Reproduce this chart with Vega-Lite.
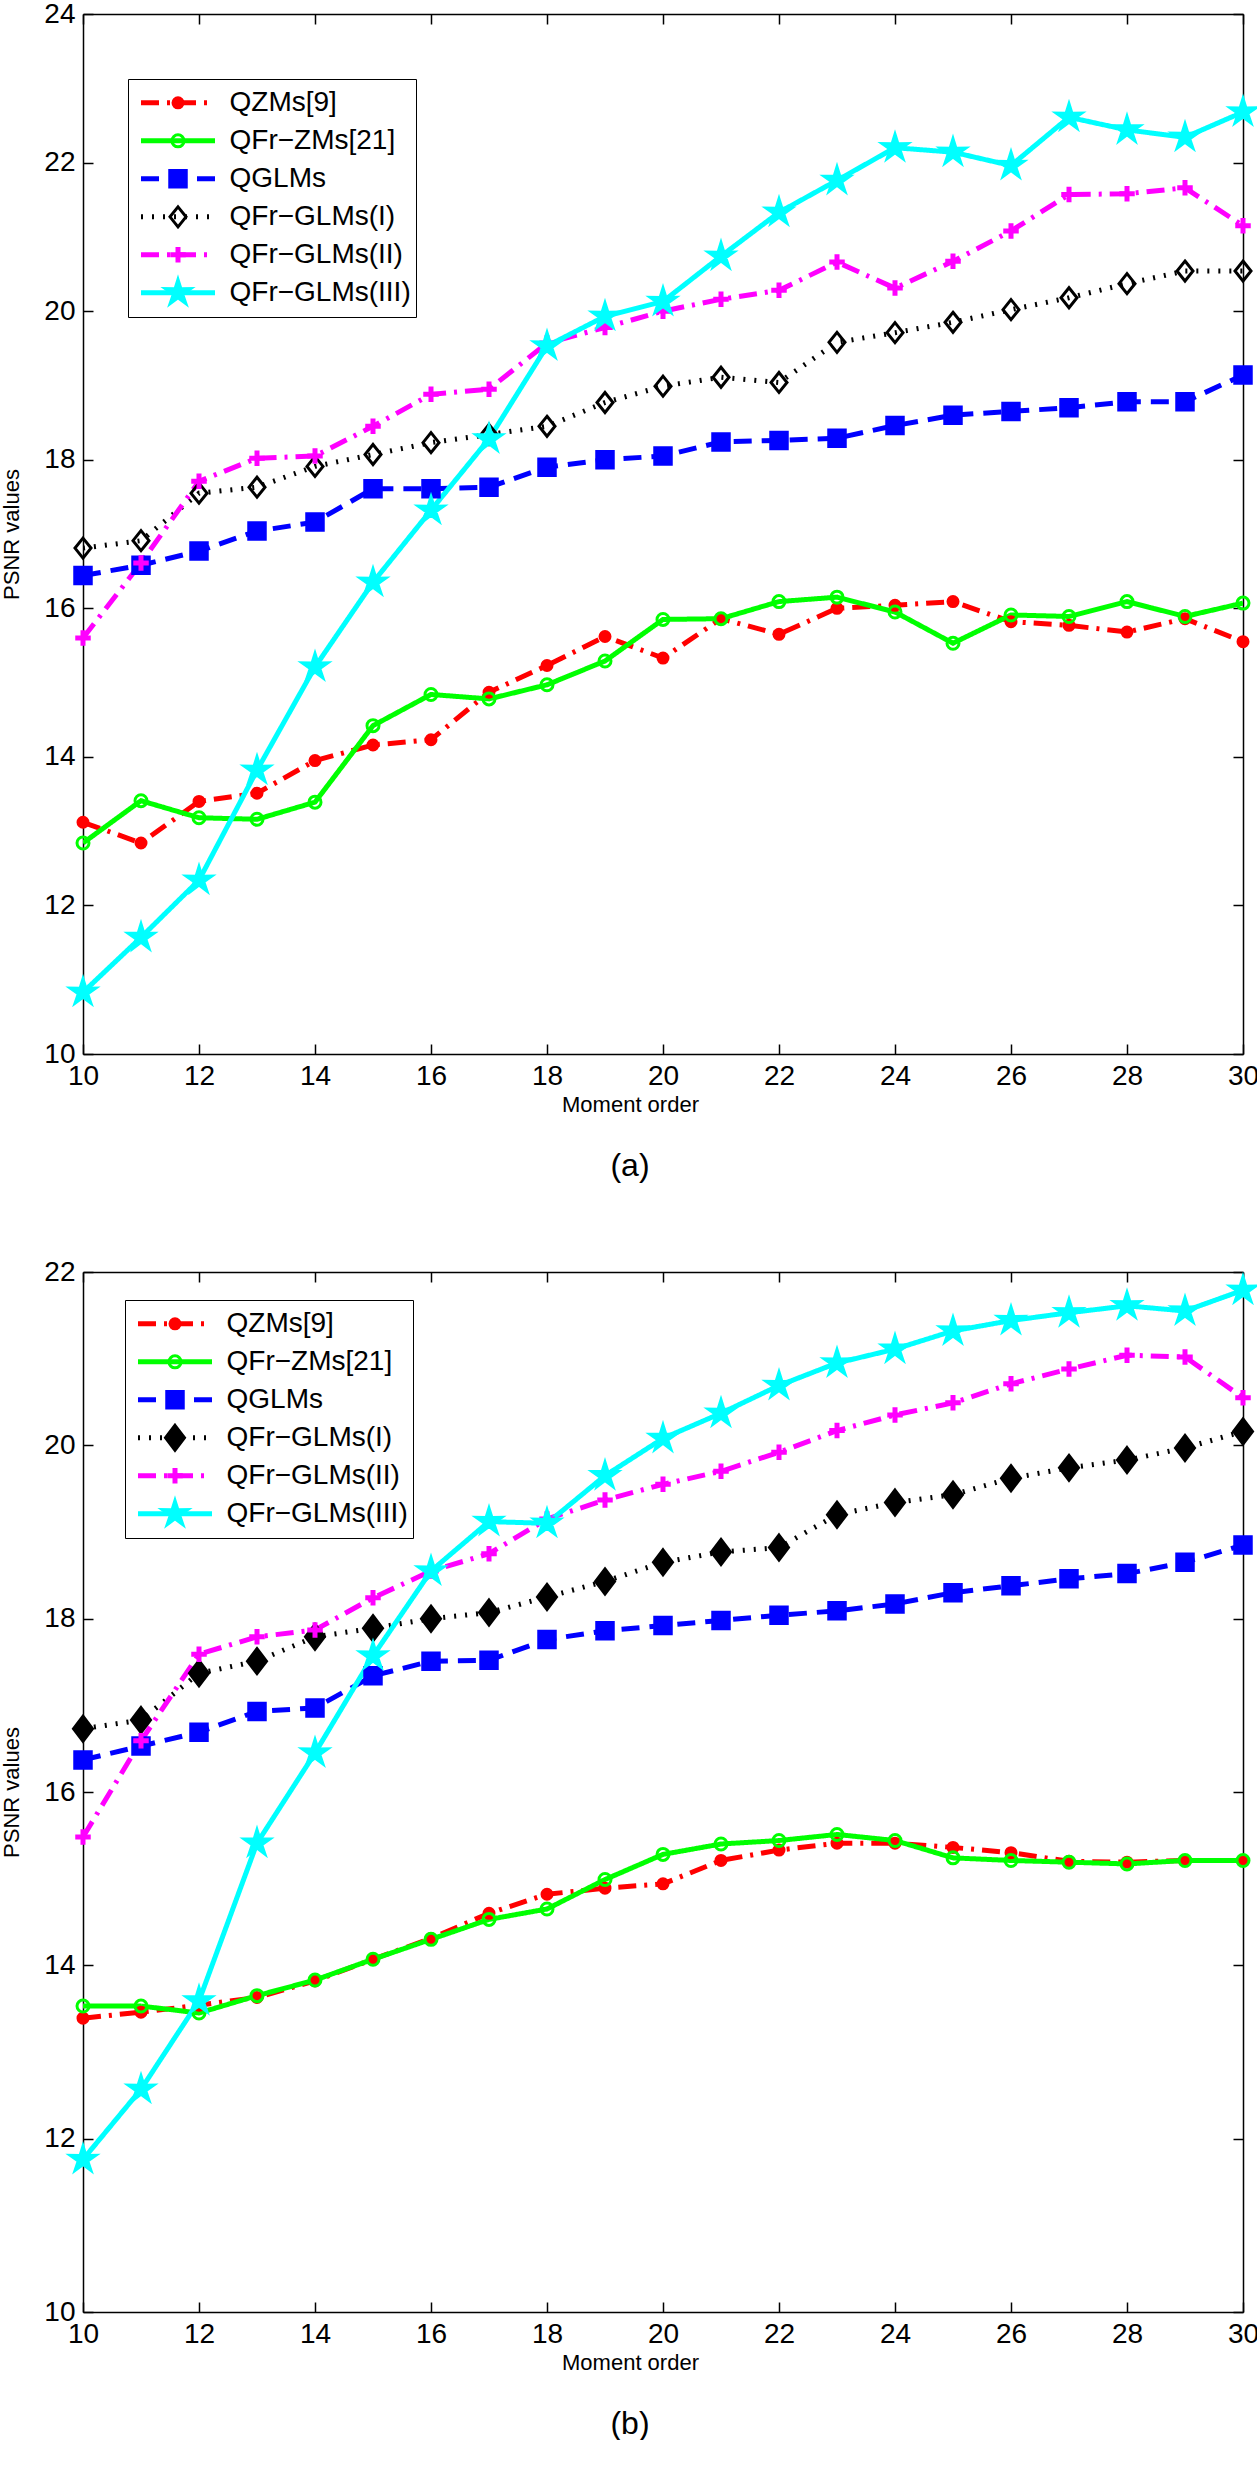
{
  "$schema": "https://vega.github.io/schema/vega-lite/v6.json",
  "background": "white",
  "padding": {"left": 0, "top": 0, "right": 0, "bottom": 0},
  "config": {"view": {"stroke": null}, "font": "Liberation Sans"},
  "datasets": {
    "a": [
      {"series":"QZMs[9]","order":10,"psnr":13.12},{"series":"QZMs[9]","order":11,"psnr":12.84},{"series":"QZMs[9]","order":12,"psnr":13.40},{"series":"QZMs[9]","order":13,"psnr":13.51},{"series":"QZMs[9]","order":14,"psnr":13.95},{"series":"QZMs[9]","order":15,"psnr":14.16},{"series":"QZMs[9]","order":16,"psnr":14.23},{"series":"QZMs[9]","order":17,"psnr":14.87},{"series":"QZMs[9]","order":18,"psnr":15.23},{"series":"QZMs[9]","order":19,"psnr":15.62},{"series":"QZMs[9]","order":20,"psnr":15.33},{"series":"QZMs[9]","order":21,"psnr":15.86},{"series":"QZMs[9]","order":22,"psnr":15.65},{"series":"QZMs[9]","order":23,"psnr":16.00},{"series":"QZMs[9]","order":24,"psnr":16.04},{"series":"QZMs[9]","order":25,"psnr":16.09},{"series":"QZMs[9]","order":26,"psnr":15.82},{"series":"QZMs[9]","order":27,"psnr":15.77},{"series":"QZMs[9]","order":28,"psnr":15.68},{"series":"QZMs[9]","order":29,"psnr":15.86},{"series":"QZMs[9]","order":30,"psnr":15.55},
      {"series":"QFr−ZMs[21]","order":10,"psnr":12.84},{"series":"QFr−ZMs[21]","order":11,"psnr":13.41},{"series":"QFr−ZMs[21]","order":12,"psnr":13.18},{"series":"QFr−ZMs[21]","order":13,"psnr":13.16},{"series":"QFr−ZMs[21]","order":14,"psnr":13.39},{"series":"QFr−ZMs[21]","order":15,"psnr":14.42},{"series":"QFr−ZMs[21]","order":16,"psnr":14.84},{"series":"QFr−ZMs[21]","order":17,"psnr":14.78},{"series":"QFr−ZMs[21]","order":18,"psnr":14.97},{"series":"QFr−ZMs[21]","order":19,"psnr":15.29},{"series":"QFr−ZMs[21]","order":20,"psnr":15.85},{"series":"QFr−ZMs[21]","order":21,"psnr":15.86},{"series":"QFr−ZMs[21]","order":22,"psnr":16.09},{"series":"QFr−ZMs[21]","order":23,"psnr":16.15},{"series":"QFr−ZMs[21]","order":24,"psnr":15.95},{"series":"QFr−ZMs[21]","order":25,"psnr":15.53},{"series":"QFr−ZMs[21]","order":26,"psnr":15.91},{"series":"QFr−ZMs[21]","order":27,"psnr":15.89},{"series":"QFr−ZMs[21]","order":28,"psnr":16.09},{"series":"QFr−ZMs[21]","order":29,"psnr":15.89},{"series":"QFr−ZMs[21]","order":30,"psnr":16.07},
      {"series":"QGLMs","order":10,"psnr":16.44},{"series":"QGLMs","order":11,"psnr":16.58},{"series":"QGLMs","order":12,"psnr":16.77},{"series":"QGLMs","order":13,"psnr":17.04},{"series":"QGLMs","order":14,"psnr":17.16},{"series":"QGLMs","order":15,"psnr":17.61},{"series":"QGLMs","order":16,"psnr":17.61},{"series":"QGLMs","order":17,"psnr":17.63},{"series":"QGLMs","order":18,"psnr":17.90},{"series":"QGLMs","order":19,"psnr":18.00},{"series":"QGLMs","order":20,"psnr":18.05},{"series":"QGLMs","order":21,"psnr":18.24},{"series":"QGLMs","order":22,"psnr":18.26},{"series":"QGLMs","order":23,"psnr":18.29},{"series":"QGLMs","order":24,"psnr":18.46},{"series":"QGLMs","order":25,"psnr":18.60},{"series":"QGLMs","order":26,"psnr":18.65},{"series":"QGLMs","order":27,"psnr":18.70},{"series":"QGLMs","order":28,"psnr":18.78},{"series":"QGLMs","order":29,"psnr":18.78},{"series":"QGLMs","order":30,"psnr":19.14},
      {"series":"QFr−GLMs(I)","order":10,"psnr":16.81},{"series":"QFr−GLMs(I)","order":11,"psnr":16.91},{"series":"QFr−GLMs(I)","order":12,"psnr":17.55},{"series":"QFr−GLMs(I)","order":13,"psnr":17.63},{"series":"QFr−GLMs(I)","order":14,"psnr":17.91},{"series":"QFr−GLMs(I)","order":15,"psnr":18.07},{"series":"QFr−GLMs(I)","order":16,"psnr":18.23},{"series":"QFr−GLMs(I)","order":17,"psnr":18.34},{"series":"QFr−GLMs(I)","order":18,"psnr":18.45},{"series":"QFr−GLMs(I)","order":19,"psnr":18.77},{"series":"QFr−GLMs(I)","order":20,"psnr":18.99},{"series":"QFr−GLMs(I)","order":21,"psnr":19.11},{"series":"QFr−GLMs(I)","order":22,"psnr":19.04},{"series":"QFr−GLMs(I)","order":23,"psnr":19.58},{"series":"QFr−GLMs(I)","order":24,"psnr":19.71},{"series":"QFr−GLMs(I)","order":25,"psnr":19.85},{"series":"QFr−GLMs(I)","order":26,"psnr":20.02},{"series":"QFr−GLMs(I)","order":27,"psnr":20.18},{"series":"QFr−GLMs(I)","order":28,"psnr":20.37},{"series":"QFr−GLMs(I)","order":29,"psnr":20.54},{"series":"QFr−GLMs(I)","order":30,"psnr":20.54},
      {"series":"QFr−GLMs(II)","order":10,"psnr":15.60},{"series":"QFr−GLMs(II)","order":11,"psnr":16.61},{"series":"QFr−GLMs(II)","order":12,"psnr":17.71},{"series":"QFr−GLMs(II)","order":13,"psnr":18.02},{"series":"QFr−GLMs(II)","order":14,"psnr":18.05},{"series":"QFr−GLMs(II)","order":15,"psnr":18.45},{"series":"QFr−GLMs(II)","order":16,"psnr":18.88},{"series":"QFr−GLMs(II)","order":17,"psnr":18.95},{"series":"QFr−GLMs(II)","order":18,"psnr":19.57},{"series":"QFr−GLMs(II)","order":19,"psnr":19.78},{"series":"QFr−GLMs(II)","order":20,"psnr":20.00},{"series":"QFr−GLMs(II)","order":21,"psnr":20.16},{"series":"QFr−GLMs(II)","order":22,"psnr":20.28},{"series":"QFr−GLMs(II)","order":23,"psnr":20.66},{"series":"QFr−GLMs(II)","order":24,"psnr":20.31},{"series":"QFr−GLMs(II)","order":25,"psnr":20.67},{"series":"QFr−GLMs(II)","order":26,"psnr":21.08},{"series":"QFr−GLMs(II)","order":27,"psnr":21.57},{"series":"QFr−GLMs(II)","order":28,"psnr":21.58},{"series":"QFr−GLMs(II)","order":29,"psnr":21.66},{"series":"QFr−GLMs(II)","order":30,"psnr":21.15},
      {"series":"QFr−GLMs(III)","order":10,"psnr":10.83},{"series":"QFr−GLMs(III)","order":11,"psnr":11.57},{"series":"QFr−GLMs(III)","order":12,"psnr":12.34},{"series":"QFr−GLMs(III)","order":13,"psnr":13.82},{"series":"QFr−GLMs(III)","order":14,"psnr":15.21},{"series":"QFr−GLMs(III)","order":15,"psnr":16.35},{"series":"QFr−GLMs(III)","order":16,"psnr":17.32},{"series":"QFr−GLMs(III)","order":17,"psnr":18.28},{"series":"QFr−GLMs(III)","order":18,"psnr":19.53},{"series":"QFr−GLMs(III)","order":19,"psnr":19.93},{"series":"QFr−GLMs(III)","order":20,"psnr":20.13},{"series":"QFr−GLMs(III)","order":21,"psnr":20.74},{"series":"QFr−GLMs(III)","order":22,"psnr":21.33},{"series":"QFr−GLMs(III)","order":23,"psnr":21.76},{"series":"QFr−GLMs(III)","order":24,"psnr":22.20},{"series":"QFr−GLMs(III)","order":25,"psnr":22.14},{"series":"QFr−GLMs(III)","order":26,"psnr":21.96},{"series":"QFr−GLMs(III)","order":27,"psnr":22.61},{"series":"QFr−GLMs(III)","order":28,"psnr":22.44},{"series":"QFr−GLMs(III)","order":29,"psnr":22.34},{"series":"QFr−GLMs(III)","order":30,"psnr":22.68}
    ],
    "b": [
      {"series":"QZMs[9]","order":10,"psnr":13.39},{"series":"QZMs[9]","order":11,"psnr":13.46},{"series":"QZMs[9]","order":12,"psnr":13.54},{"series":"QZMs[9]","order":13,"psnr":13.63},{"series":"QZMs[9]","order":14,"psnr":13.82},{"series":"QZMs[9]","order":15,"psnr":14.07},{"series":"QZMs[9]","order":16,"psnr":14.31},{"series":"QZMs[9]","order":17,"psnr":14.60},{"series":"QZMs[9]","order":18,"psnr":14.82},{"series":"QZMs[9]","order":19,"psnr":14.89},{"series":"QZMs[9]","order":20,"psnr":14.94},{"series":"QZMs[9]","order":21,"psnr":15.21},{"series":"QZMs[9]","order":22,"psnr":15.33},{"series":"QZMs[9]","order":23,"psnr":15.41},{"series":"QZMs[9]","order":24,"psnr":15.41},{"series":"QZMs[9]","order":25,"psnr":15.36},{"series":"QZMs[9]","order":26,"psnr":15.30},{"series":"QZMs[9]","order":27,"psnr":15.20},{"series":"QZMs[9]","order":28,"psnr":15.19},{"series":"QZMs[9]","order":29,"psnr":15.21},{"series":"QZMs[9]","order":30,"psnr":15.21},
      {"series":"QFr−ZMs[21]","order":10,"psnr":13.53},{"series":"QFr−ZMs[21]","order":11,"psnr":13.53},{"series":"QFr−ZMs[21]","order":12,"psnr":13.45},{"series":"QFr−ZMs[21]","order":13,"psnr":13.65},{"series":"QFr−ZMs[21]","order":14,"psnr":13.83},{"series":"QFr−ZMs[21]","order":15,"psnr":14.07},{"series":"QFr−ZMs[21]","order":16,"psnr":14.30},{"series":"QFr−ZMs[21]","order":17,"psnr":14.53},{"series":"QFr−ZMs[21]","order":18,"psnr":14.65},{"series":"QFr−ZMs[21]","order":19,"psnr":14.99},{"series":"QFr−ZMs[21]","order":20,"psnr":15.28},{"series":"QFr−ZMs[21]","order":21,"psnr":15.40},{"series":"QFr−ZMs[21]","order":22,"psnr":15.44},{"series":"QFr−ZMs[21]","order":23,"psnr":15.51},{"series":"QFr−ZMs[21]","order":24,"psnr":15.44},{"series":"QFr−ZMs[21]","order":25,"psnr":15.24},{"series":"QFr−ZMs[21]","order":26,"psnr":15.21},{"series":"QFr−ZMs[21]","order":27,"psnr":15.19},{"series":"QFr−ZMs[21]","order":28,"psnr":15.17},{"series":"QFr−ZMs[21]","order":29,"psnr":15.21},{"series":"QFr−ZMs[21]","order":30,"psnr":15.21},
      {"series":"QGLMs","order":10,"psnr":16.37},{"series":"QGLMs","order":11,"psnr":16.53},{"series":"QGLMs","order":12,"psnr":16.69},{"series":"QGLMs","order":13,"psnr":16.93},{"series":"QGLMs","order":14,"psnr":16.97},{"series":"QGLMs","order":15,"psnr":17.34},{"series":"QGLMs","order":16,"psnr":17.51},{"series":"QGLMs","order":17,"psnr":17.52},{"series":"QGLMs","order":18,"psnr":17.76},{"series":"QGLMs","order":19,"psnr":17.86},{"series":"QGLMs","order":20,"psnr":17.92},{"series":"QGLMs","order":21,"psnr":17.98},{"series":"QGLMs","order":22,"psnr":18.04},{"series":"QGLMs","order":23,"psnr":18.09},{"series":"QGLMs","order":24,"psnr":18.17},{"series":"QGLMs","order":25,"psnr":18.30},{"series":"QGLMs","order":26,"psnr":18.38},{"series":"QGLMs","order":27,"psnr":18.46},{"series":"QGLMs","order":28,"psnr":18.52},{"series":"QGLMs","order":29,"psnr":18.65},{"series":"QGLMs","order":30,"psnr":18.85},
      {"series":"QFr−GLMs(I)","order":10,"psnr":16.73},{"series":"QFr−GLMs(I)","order":11,"psnr":16.83},{"series":"QFr−GLMs(I)","order":12,"psnr":17.37},{"series":"QFr−GLMs(I)","order":13,"psnr":17.51},{"series":"QFr−GLMs(I)","order":14,"psnr":17.79},{"series":"QFr−GLMs(I)","order":15,"psnr":17.89},{"series":"QFr−GLMs(I)","order":16,"psnr":18.00},{"series":"QFr−GLMs(I)","order":17,"psnr":18.07},{"series":"QFr−GLMs(I)","order":18,"psnr":18.25},{"series":"QFr−GLMs(I)","order":19,"psnr":18.43},{"series":"QFr−GLMs(I)","order":20,"psnr":18.65},{"series":"QFr−GLMs(I)","order":21,"psnr":18.77},{"series":"QFr−GLMs(I)","order":22,"psnr":18.82},{"series":"QFr−GLMs(I)","order":23,"psnr":19.20},{"series":"QFr−GLMs(I)","order":24,"psnr":19.34},{"series":"QFr−GLMs(I)","order":25,"psnr":19.43},{"series":"QFr−GLMs(I)","order":26,"psnr":19.62},{"series":"QFr−GLMs(I)","order":27,"psnr":19.74},{"series":"QFr−GLMs(I)","order":28,"psnr":19.83},{"series":"QFr−GLMs(I)","order":29,"psnr":19.97},{"series":"QFr−GLMs(I)","order":30,"psnr":20.16},
      {"series":"QFr−GLMs(II)","order":10,"psnr":15.48},{"series":"QFr−GLMs(II)","order":11,"psnr":16.59},{"series":"QFr−GLMs(II)","order":12,"psnr":17.59},{"series":"QFr−GLMs(II)","order":13,"psnr":17.79},{"series":"QFr−GLMs(II)","order":14,"psnr":17.87},{"series":"QFr−GLMs(II)","order":15,"psnr":18.24},{"series":"QFr−GLMs(II)","order":16,"psnr":18.55},{"series":"QFr−GLMs(II)","order":17,"psnr":18.75},{"series":"QFr−GLMs(II)","order":18,"psnr":19.15},{"series":"QFr−GLMs(II)","order":19,"psnr":19.37},{"series":"QFr−GLMs(II)","order":20,"psnr":19.55},{"series":"QFr−GLMs(II)","order":21,"psnr":19.70},{"series":"QFr−GLMs(II)","order":22,"psnr":19.92},{"series":"QFr−GLMs(II)","order":23,"psnr":20.17},{"series":"QFr−GLMs(II)","order":24,"psnr":20.35},{"series":"QFr−GLMs(II)","order":25,"psnr":20.49},{"series":"QFr−GLMs(II)","order":26,"psnr":20.71},{"series":"QFr−GLMs(II)","order":27,"psnr":20.88},{"series":"QFr−GLMs(II)","order":28,"psnr":21.04},{"series":"QFr−GLMs(II)","order":29,"psnr":21.02},{"series":"QFr−GLMs(II)","order":30,"psnr":20.55},
      {"series":"QFr−GLMs(III)","order":10,"psnr":11.76},{"series":"QFr−GLMs(III)","order":11,"psnr":12.57},{"series":"QFr−GLMs(III)","order":12,"psnr":13.59},{"series":"QFr−GLMs(III)","order":13,"psnr":15.41},{"series":"QFr−GLMs(III)","order":14,"psnr":16.45},{"series":"QFr−GLMs(III)","order":15,"psnr":17.57},{"series":"QFr−GLMs(III)","order":16,"psnr":18.55},{"series":"QFr−GLMs(III)","order":17,"psnr":19.12},{"series":"QFr−GLMs(III)","order":18,"psnr":19.10},{"series":"QFr−GLMs(III)","order":19,"psnr":19.65},{"series":"QFr−GLMs(III)","order":20,"psnr":20.08},{"series":"QFr−GLMs(III)","order":21,"psnr":20.37},{"series":"QFr−GLMs(III)","order":22,"psnr":20.69},{"series":"QFr−GLMs(III)","order":23,"psnr":20.95},{"series":"QFr−GLMs(III)","order":24,"psnr":21.11},{"series":"QFr−GLMs(III)","order":25,"psnr":21.32},{"series":"QFr−GLMs(III)","order":26,"psnr":21.44},{"series":"QFr−GLMs(III)","order":27,"psnr":21.53},{"series":"QFr−GLMs(III)","order":28,"psnr":21.61},{"series":"QFr−GLMs(III)","order":29,"psnr":21.55},{"series":"QFr−GLMs(III)","order":30,"psnr":21.79}
    ]
  },
  "spacing": 76,
  "resolve": {
    "scale": {"x": "independent", "y": "independent", "stroke": "independent", "strokeDash": "independent", "color": "independent", "shape": "independent", "fill": "independent"},
    "legend": {"stroke": "independent", "strokeDash": "independent", "color": "independent", "shape": "independent", "fill": "independent"}
  },
  "vconcat": [
    {
      "width": 1160, "height": 1040,
      "data": {"name": "a"},
      "title": {"text": "(a)", "orient": "bottom", "fontSize": 32, "font": "Liberation Sans", "fontWeight": "normal", "color": "black", "dx": -33, "offset": 36},
      "layer": [
        {
          "mark": {"type": "line", "strokeWidth": 5, "clip": true},
          "encoding": {
            "x": {"field": "order", "type": "quantitative", "scale": {"domain": [10, 30], "nice": false, "zero": false},
              "axis": {"orient": "bottom", "values": [10,12,14,16,18,20,22,24,26,28,30], "tickSize": -10, "tickWidth": 1.5, "tickColor": "black", "domainColor": "black", "domainWidth": 1.5, "grid": false, "labelFont": "Liberation Sans", "labelFontSize": 28, "labelColor": "black", "labelPadding": 18, "labelFlush": false, "labelOverlap": false, "title": "Moment order", "titleFont": "Liberation Sans", "titleFontSize": 22, "titleFontWeight": "normal", "titleColor": "black", "titlePadding": 4, "titleX": 547}},
            "y": {"field": "psnr", "type": "quantitative", "scale": {"domain": [10, 24], "nice": false, "zero": false},
              "axis": {"orient": "left", "values": [10,12,14,16,18,20,22,24], "tickSize": -10, "tickWidth": 1.5, "tickColor": "black", "domainColor": "black", "domainWidth": 1.5, "grid": false, "labelFont": "Liberation Sans", "labelFontSize": 28, "labelColor": "black", "labelPadding": 18, "labelFlush": false, "labelOverlap": false, "title": "PSNR values", "titleFont": "Liberation Sans", "titleFontSize": 22, "titleFontWeight": "normal", "titleColor": "black", "titlePadding": 20}},
            "stroke": {"field": "series", "type": "nominal",
              "scale": {"domain": ["QZMs[9]","QFr−ZMs[21]","QGLMs","QFr−GLMs(I)","QFr−GLMs(II)","QFr−GLMs(III)"], "range": ["#ff0000","#00ff00","#0000ff","#000000","#ff00ff","#00ffff"]},
              "legend": {"orient": "none", "legendX": 45, "legendY": 65, "title": null, "padding": 5, "strokeColor": "black", "symbolType": "stroke", "symbolSize": 5476, "symbolStrokeWidth": 5, "symbolOffset": 5.5, "labelOffset": 12, "labelFont": "Liberation Sans", "labelFontSize": 28, "labelColor": "black", "clipHeight": 37.7, "rowPadding": 0, "labelLimit": 400}},
            "strokeDash": {"field": "series", "type": "nominal",
              "scale": {"domain": ["QZMs[9]","QFr−ZMs[21]","QGLMs","QFr−GLMs(I)","QFr−GLMs(II)","QFr−GLMs(III)"], "range": [[18,8,3,8],[1,0],[18,10],[2,9],[18,8,3,8],[1,0]]}}
          }
        },
        {
          "mark": {"type": "point", "filled": false, "strokeWidth": 3, "size": 100, "opacity": 1, "fillOpacity": 1},
          "encoding": {
            "x": {"field": "order", "type": "quantitative", "axis": {"orient": "top", "values": [10,12,14,16,18,20,22,24,26,28,30], "tickSize": -10, "tickWidth": 1.5, "tickColor": "black", "domainColor": "black", "domainWidth": 1.5, "grid": false, "labels": false, "title": null}},
            "y": {"field": "psnr", "type": "quantitative", "axis": {"orient": "right", "values": [10,12,14,16,18,20,22,24], "tickSize": -10, "tickWidth": 1.5, "tickColor": "black", "domainColor": "black", "domainWidth": 1.5, "grid": false, "labels": false, "title": null}},
            "color": {"field": "series", "type": "nominal", "sort": null,
              "scale": {"range": ["#ff0000","#00ff00","#0000ff","#000000","#ff00ff","#00ffff"]},
              "legend": {"orient": "none", "legendX": 45, "legendY": 65, "title": null, "padding": 5, "symbolSize": 100, "symbolStrokeWidth": 3, "symbolOffset": 31, "labelOffset": 12, "labelFont": "Liberation Sans", "labelFontSize": 28, "labelExpr": "''", "clipHeight": 37.7, "rowPadding": 0, "labelLimit": 400}},
            "shape": {"field": "series", "type": "nominal", "sort": null,
              "scale": {"range": ["M-1,0A1,1 0 1,0 1,0A1,1 0 1,0 -1,0Z","M-1.2,0A1.2,1.2 0 1,0 1.2,0A1.2,1.2 0 1,0 -1.2,0Z","M-1.65,-1.65H1.65V1.65H-1.65Z","M0,-2L1.6,0L0,2L-1.6,0Z","M-1.25,-0.2H-0.2V-1.25H0.2V-0.2H1.25V0.2H0.2V1.25H-0.2V0.2H-1.25Z","M0,-2.7L0.588,-0.809L2.568,-0.834L0.951,0.309L1.587,2.184L0,1L-1.587,2.184L-0.951,0.309L-2.568,-0.834L-0.588,-0.809Z"]}},
            "fill": {"field": "series", "type": "nominal", "sort": null,
              "scale": {"range": ["#ff0000","transparent","#0000ff","transparent","#ff00ff","#00ffff"]}}
          }
        }
      ],
      "resolve": {"axis": {"x": "independent", "y": "independent"}}
    },
    {
      "width": 1160, "height": 1040,
      "data": {"name": "b"},
      "title": {"text": "(b)", "orient": "bottom", "fontSize": 32, "font": "Liberation Sans", "fontWeight": "normal", "color": "black", "dx": -33, "offset": 36},
      "layer": [
        {
          "mark": {"type": "line", "strokeWidth": 5, "clip": true},
          "encoding": {
            "x": {"field": "order", "type": "quantitative", "scale": {"domain": [10, 30], "nice": false, "zero": false},
              "axis": {"orient": "bottom", "values": [10,12,14,16,18,20,22,24,26,28,30], "tickSize": -10, "tickWidth": 1.5, "tickColor": "black", "domainColor": "black", "domainWidth": 1.5, "grid": false, "labelFont": "Liberation Sans", "labelFontSize": 28, "labelColor": "black", "labelPadding": 18, "labelFlush": false, "labelOverlap": false, "title": "Moment order", "titleFont": "Liberation Sans", "titleFontSize": 22, "titleFontWeight": "normal", "titleColor": "black", "titlePadding": 4, "titleX": 547}},
            "y": {"field": "psnr", "type": "quantitative", "scale": {"domain": [10, 22], "nice": false, "zero": false},
              "axis": {"orient": "left", "values": [10,12,14,16,18,20,22], "tickSize": -10, "tickWidth": 1.5, "tickColor": "black", "domainColor": "black", "domainWidth": 1.5, "grid": false, "labelFont": "Liberation Sans", "labelFontSize": 28, "labelColor": "black", "labelPadding": 18, "labelFlush": false, "labelOverlap": false, "title": "PSNR values", "titleFont": "Liberation Sans", "titleFontSize": 22, "titleFontWeight": "normal", "titleColor": "black", "titlePadding": 20}},
            "stroke": {"field": "series", "type": "nominal",
              "scale": {"domain": ["QZMs[9]","QFr−ZMs[21]","QGLMs","QFr−GLMs(I)","QFr−GLMs(II)","QFr−GLMs(III)"], "range": ["#ff0000","#00ff00","#0000ff","#000000","#ff00ff","#00ffff"]},
              "legend": {"orient": "none", "legendX": 42, "legendY": 28, "title": null, "padding": 5, "strokeColor": "black", "symbolType": "stroke", "symbolSize": 5476, "symbolStrokeWidth": 5, "symbolOffset": 5.5, "labelOffset": 12, "labelFont": "Liberation Sans", "labelFontSize": 28, "labelColor": "black", "clipHeight": 37.7, "rowPadding": 0, "labelLimit": 400}},
            "strokeDash": {"field": "series", "type": "nominal",
              "scale": {"domain": ["QZMs[9]","QFr−ZMs[21]","QGLMs","QFr−GLMs(I)","QFr−GLMs(II)","QFr−GLMs(III)"], "range": [[18,8,3,8],[1,0],[18,10],[2,9],[18,8,3,8],[1,0]]}}
          }
        },
        {
          "mark": {"type": "point", "filled": false, "strokeWidth": 3, "size": 100, "opacity": 1, "fillOpacity": 1},
          "encoding": {
            "x": {"field": "order", "type": "quantitative", "axis": {"orient": "top", "values": [10,12,14,16,18,20,22,24,26,28,30], "tickSize": -10, "tickWidth": 1.5, "tickColor": "black", "domainColor": "black", "domainWidth": 1.5, "grid": false, "labels": false, "title": null}},
            "y": {"field": "psnr", "type": "quantitative", "axis": {"orient": "right", "values": [10,12,14,16,18,20,22], "tickSize": -10, "tickWidth": 1.5, "tickColor": "black", "domainColor": "black", "domainWidth": 1.5, "grid": false, "labels": false, "title": null}},
            "color": {"field": "series", "type": "nominal", "sort": null,
              "scale": {"range": ["#ff0000","#00ff00","#0000ff","#000000","#ff00ff","#00ffff"]},
              "legend": {"orient": "none", "legendX": 42, "legendY": 28, "title": null, "padding": 5, "symbolSize": 100, "symbolStrokeWidth": 3, "symbolOffset": 31, "labelOffset": 12, "labelFont": "Liberation Sans", "labelFontSize": 28, "labelExpr": "''", "clipHeight": 37.7, "rowPadding": 0, "labelLimit": 400}},
            "shape": {"field": "series", "type": "nominal", "sort": null,
              "scale": {"range": ["M-1,0A1,1 0 1,0 1,0A1,1 0 1,0 -1,0Z","M-1.2,0A1.2,1.2 0 1,0 1.2,0A1.2,1.2 0 1,0 -1.2,0Z","M-1.65,-1.65H1.65V1.65H-1.65Z","M0,-2.5L1.9,0L0,2.5L-1.9,0Z","M-1.25,-0.2H-0.2V-1.25H0.2V-0.2H1.25V0.2H0.2V1.25H-0.2V0.2H-1.25Z","M0,-2.7L0.588,-0.809L2.568,-0.834L0.951,0.309L1.587,2.184L0,1L-1.587,2.184L-0.951,0.309L-2.568,-0.834L-0.588,-0.809Z"]}},
            "fill": {"field": "series", "type": "nominal", "sort": null,
              "scale": {"range": ["#ff0000","transparent","#0000ff","#000000","#ff00ff","#00ffff"]}}
          }
        }
      ],
      "resolve": {"axis": {"x": "independent", "y": "independent"}}
    }
  ]
}
